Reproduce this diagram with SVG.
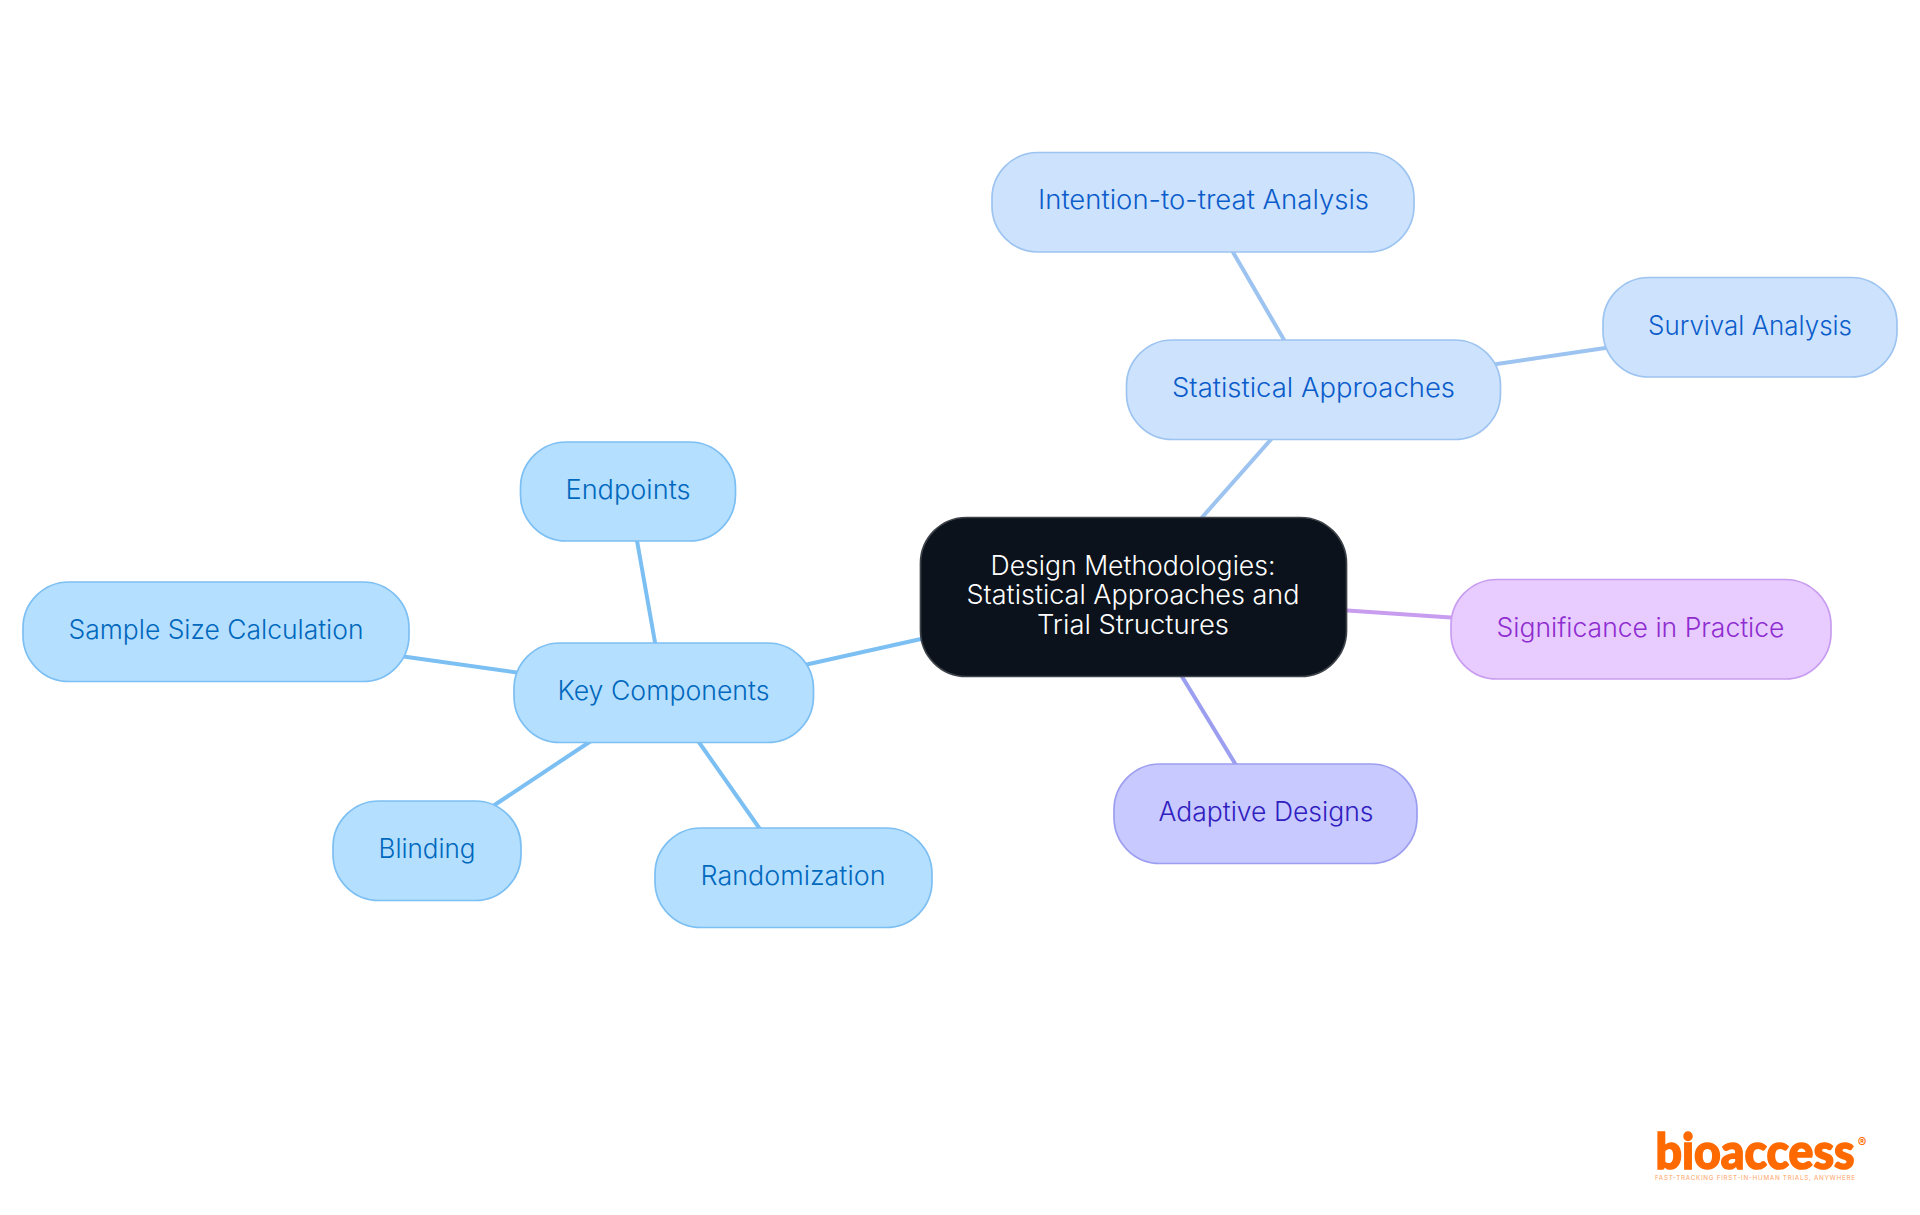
<svg xmlns="http://www.w3.org/2000/svg" width="1920" height="1215" viewBox="0 0 1920 1215">
<style>
text{font-family:"Inter","Liberation Sans",sans-serif;font-size:26.500px;font-weight:350;text-anchor:middle}
.n{stroke-width:1.700}
.c{fill:none;stroke-width:4;stroke-linecap:butt}
.sky rect{fill:#b5dfff;stroke:#7cbff3}.sky text{fill:#0068bd}
.blu rect{fill:#cde3fd;stroke:#9dc4f0}.blu text{fill:#0b5ccb}
.pur rect{fill:#e8ccff;stroke:#c89df0}.pur text{fill:#8f2dd0}
.ind rect{fill:#c8c9ff;stroke:#9c9ef0}.ind text{fill:#3020c0}
#main text{fill:#fff}
#logo text{fill:#ff6a00}
</style>
<rect width="1920" height="1215" fill="#fff"/>
<g id="connectors">
<path class="c" stroke="#7cbff3" d="M800 666L930 637"/>
<path class="c" stroke="#7cbff3" d="M656 648L636 535"/>
<path class="c" stroke="#7cbff3" d="M520 673L400 656"/>
<path class="c" stroke="#7cbff3" d="M594 739L490 808"/>
<path class="c" stroke="#7cbff3" d="M696 738L762 832"/>
<path class="c" stroke="#9dc4f0" d="M1198 522L1274 436"/>
<path class="c" stroke="#9dc4f0" d="M1287 345L1230 247"/>
<path class="c" stroke="#9dc4f0" d="M1490 365L1612 347"/>
<path class="c" stroke="#c89df0" d="M1340 610L1458 618"/>
<path class="c" stroke="#9c9ef0" d="M1178 670L1239 770"/>
</g>
<g id="main"><rect class="n" x="920.500" y="517.500" width="426" height="159" rx="46" fill="#0b121b" stroke="#3d4249"/>
<text x="1133" y="575" textLength="285" lengthAdjust="spacingAndGlyphs">Design Methodologies:</text><text x="1133" y="604" textLength="333" lengthAdjust="spacingAndGlyphs">Statistical Approaches and</text><text x="1133" y="634" textLength="192" lengthAdjust="spacingAndGlyphs">Trial Structures</text></g>
<g id="key" class="sky"><rect class="n" x="514" y="643" width="299.500" height="99.500" rx="46"/><text x="663.500" y="700" textLength="212" lengthAdjust="spacingAndGlyphs">Key Components</text></g>
<g id="endpoints" class="sky"><rect class="n" x="520.500" y="442" width="215" height="99" rx="46"/><text x="628" y="499" textLength="125" lengthAdjust="spacingAndGlyphs">Endpoints</text></g>
<g id="sample" class="sky"><rect class="n" x="23" y="582" width="386" height="99.500" rx="46"/><text x="216" y="639" textLength="295" lengthAdjust="spacingAndGlyphs">Sample Size Calculation</text></g>
<g id="blinding" class="sky"><rect class="n" x="333" y="801" width="188" height="99.500" rx="46"/><text x="427" y="858" textLength="97" lengthAdjust="spacingAndGlyphs">Blinding</text></g>
<g id="randomization" class="sky"><rect class="n" x="655" y="828" width="277" height="99.500" rx="46"/><text x="793" y="885" textLength="185" lengthAdjust="spacingAndGlyphs">Randomization</text></g>
<g id="statistical" class="blu"><rect class="n" x="1126.500" y="340" width="374" height="99.500" rx="46"/><text x="1313.500" y="397" textLength="283" lengthAdjust="spacingAndGlyphs">Statistical Approaches</text></g>
<g id="intention" class="blu"><rect class="n" x="992" y="152.500" width="422" height="99.500" rx="46"/><text x="1203.500" y="209" textLength="331" lengthAdjust="spacingAndGlyphs">Intention-to-treat Analysis</text></g>
<g id="survival" class="blu"><rect class="n" x="1603" y="277.500" width="294" height="99.500" rx="46"/><text x="1750" y="335" textLength="204" lengthAdjust="spacingAndGlyphs">Survival Analysis</text></g>
<g id="significance" class="pur"><rect class="n" x="1451" y="579.500" width="380" height="99.500" rx="46"/><text x="1640.500" y="637" textLength="288" lengthAdjust="spacingAndGlyphs">Significance in Practice</text></g>
<g id="adaptive" class="ind"><rect class="n" x="1114" y="764" width="303" height="99.500" rx="46"/><text x="1266" y="821" textLength="215" lengthAdjust="spacingAndGlyphs">Adaptive Designs</text></g>
<g id="logo"><text x="1755" y="1168.500" style="font-family:Lato,sans-serif;font-size:50px;font-weight:900;stroke:#ff6a00;stroke-width:1.600" textLength="199" lengthAdjust="spacingAndGlyphs">bioaccess</text>
<text x="1862" y="1147" style="font-size:13px;font-weight:700">®</text>
<text x="1755" y="1179.500" style="font-size:6.300px;font-weight:400;fill:#ffa366" textLength="200" lengthAdjust="spacing">FAST-TRACKING FIRST-IN-HUMAN TRIALS, ANYWHERE</text></g>
</svg>
